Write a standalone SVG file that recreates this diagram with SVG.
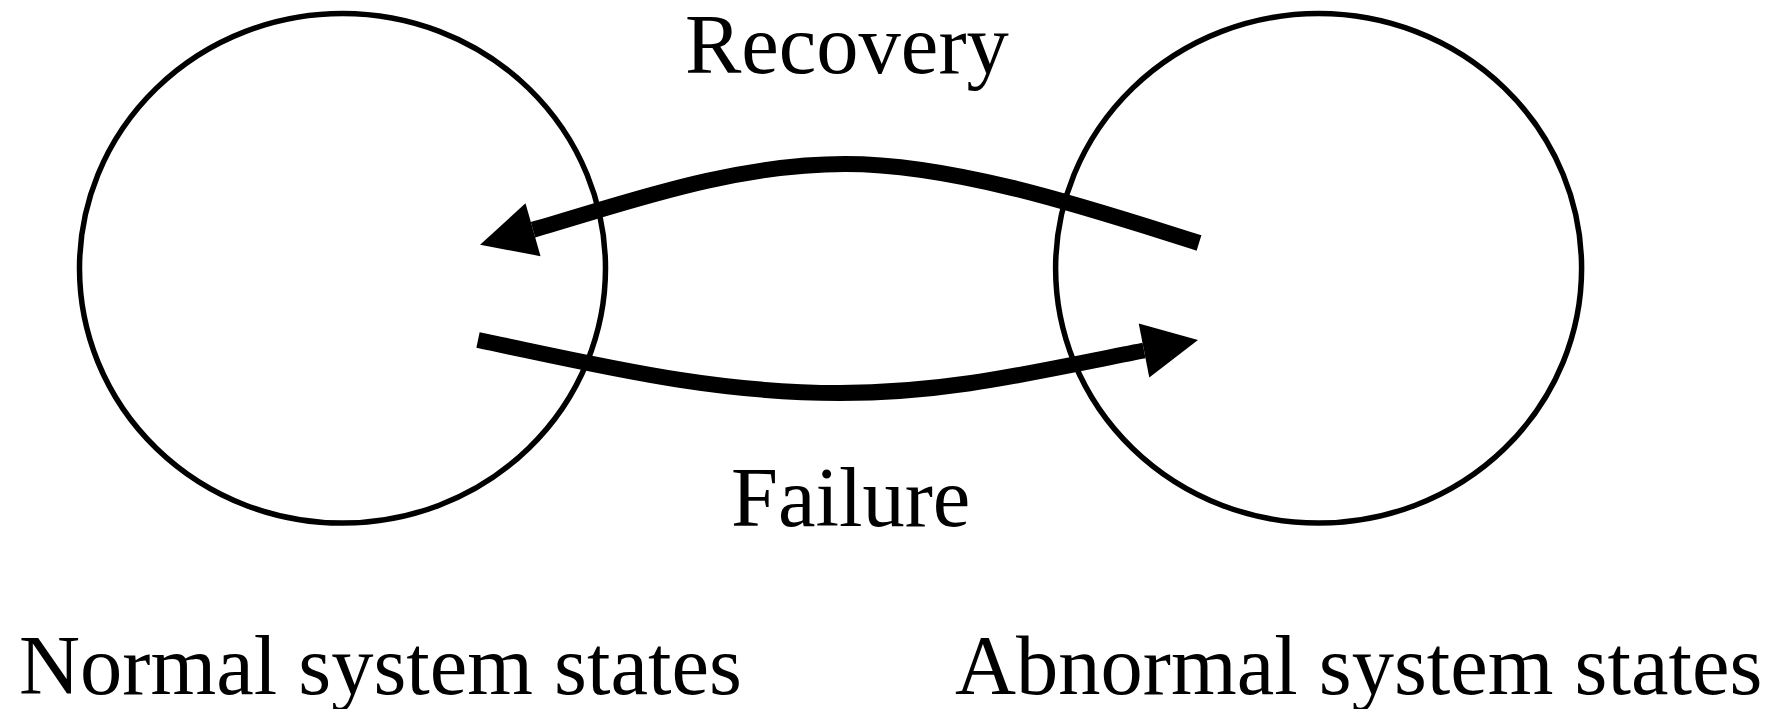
<svg xmlns="http://www.w3.org/2000/svg" width="1789" height="709" viewBox="0 0 1789 709">
  <style>
    .state { fill: none; stroke: #000; stroke-width: 5.5; }
    .flow { fill: none; stroke: #000; stroke-width: 16; stroke-linecap: butt; }
    .label { font-family: "Liberation Serif", "Times New Roman", serif; font-size: 84.5px; fill: #000; }
  </style>
  <defs>
    <marker id="head" viewBox="0 -28 56 56" markerWidth="56" markerHeight="56" refX="0" refY="0" orient="auto" markerUnits="userSpaceOnUse" overflow="visible">
      <path d="M0,-27.5 L55,0 L0,27.5 Z" fill="#000"/>
    </marker>
  </defs>
  <rect width="1789" height="709" fill="#fff"/>

  <g id="normal-states">
    <ellipse class="state" cx="342.5" cy="268.3" rx="263" ry="254.8"/>
    <text class="label" x="19" y="694">Normal system states</text>
  </g>

  <g id="abnormal-states">
    <ellipse class="state" cx="1318.6" cy="268.3" rx="263" ry="254.8"/>
    <text class="label" x="955" y="694">Abnormal system states</text>
  </g>

  <g id="connectors">
    <path id="recovery" class="flow" marker-end="url(#head)" d="M1199,243 C1100,212 960,164 845,164 C730,164 620,205 533,229.7"/>
    <path id="failure" class="flow" marker-end="url(#head)" d="M478,340 C598,365 710,393 840,393 C950,393 1034,372 1144,350.5"/>
    <text class="label" x="685" y="73">Recovery</text>
    <text class="label" x="731" y="526">Failure</text>
  </g>
</svg>
